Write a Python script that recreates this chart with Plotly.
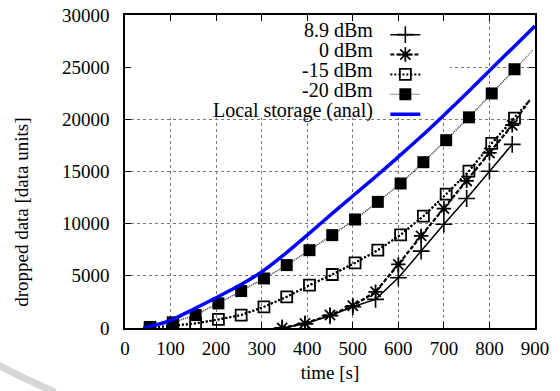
import plotly.graph_objects as go

# ---------------- data ----------------
labels = ["8.9 dBm", "0 dBm", "-15 dBm", "-20 dBm", "Local storage (anal)"]

t_p89 = [345, 395, 450, 500, 550, 600, 650, 700, 750, 800, 850]
v_p89 = [0, 400, 1170, 2030, 2740, 4810, 7370, 9950, 12410, 15030, 17600]

t_p0 = [345, 395, 450, 500, 550, 600, 650, 700, 750, 800, 850]
v_p0 = [0, 440, 1240, 2130, 3470, 6090, 8830, 11450, 14100, 16780, 19440]
t_p0_end = [888]
v_p0_end = [21830]

t_sq = [55, 105, 155, 205, 255, 305, 355, 405, 455, 505, 555, 605, 655, 705, 755, 805, 855]
v_m15 = [0, 210, 440, 820, 1240, 2030, 2990, 4110, 5130, 6245, 7460, 8930, 10720, 12830, 15030, 17700, 20110]
t_m15_end = [890]
v_m15_end = [21900]

v_m20 = [100, 540, 1240, 2360, 3540, 4750, 6030, 7460, 8900, 10400, 12090, 13850, 15890, 18000, 20190, 22480, 24800]
t_m20_end = [895]
v_m20_end = [26620]

t_anal = [40, 50, 100, 150, 200, 250, 300, 350, 400, 450, 500, 550, 600, 650, 700, 750, 800, 850, 900]
v_anal = [0, 90, 730, 1790, 2900, 4050, 5380, 7060, 8900, 10800, 12650, 14500, 16400, 18350, 20400, 22500, 24650, 26800, 28950]

x_ticks = [0, 100, 200, 300, 400, 500, 600, 700, 800, 900]
y_ticks = [0, 5000, 10000, 15000, 20000, 25000, 30000]

FONT = "'Liberation Serif', 'Times New Roman', Times, serif"
FS = 19

fig = go.Figure()

# 8.9 dBm
fig.add_trace(go.Scatter(x=t_p89, y=v_p89, mode="lines+markers", name="",
                         line=dict(color="black", width=1.5),
                         marker=dict(symbol="cross-thin", size=12, color="black",
                                     line=dict(color="black", width=1.6))))
# 0 dBm
fig.add_trace(go.Scatter(x=t_p0 + t_p0_end, y=v_p0 + v_p0_end, mode="lines", showlegend=False,
                         line=dict(color="black", width=2, dash="4px,2px")))
fig.add_trace(go.Scatter(x=t_p0, y=v_p0, mode="lines+markers", name="",
                         line=dict(color="black", width=2, dash="4px,2px"),
                         marker=dict(symbol="asterisk", size=12, color="black",
                                     line=dict(color="black", width=1.8))))
# -15 dBm
fig.add_trace(go.Scatter(x=t_sq + t_m15_end, y=v_m15 + v_m15_end, mode="lines", showlegend=False,
                         line=dict(color="black", width=2, dash="2px,2px")))
fig.add_trace(go.Scatter(x=t_sq, y=v_m15, mode="lines+markers", name="",
                         line=dict(color="black", width=2, dash="2px,2px"),
                         marker=dict(symbol="square-open", size=11, color="black",
                                     line=dict(color="black", width=1.8))))
# -20 dBm
fig.add_trace(go.Scatter(x=t_sq + t_m20_end, y=v_m20 + v_m20_end, mode="lines", showlegend=False,
                         line=dict(color="#555555", width=1.2, dash="1px,1px")))
fig.add_trace(go.Scatter(x=t_sq, y=v_m20, mode="lines+markers", name="",
                         line=dict(color="#555555", width=1.2, dash="1px,1px"),
                         marker=dict(symbol="square", size=12, color="black")))
# Local storage (analytical)
fig.add_trace(go.Scatter(x=t_anal, y=v_anal, mode="lines", name="",
                         line=dict(color="#0000ff", width=3.5, shape="spline", smoothing=0.6)))

# legend text (right-aligned, left of the samples, like the original key)
row_y = [28535, 26620, 24700, 22790, 20870]
for lab, yy in zip(labels, row_y):
    fig.add_annotation(x=549, y=yy, xref="x", yref="y", text=lab, showarrow=False,
                       xanchor="right", yanchor="middle",
                       font=dict(family=FONT, size=20, color="black"))

# y-axis title placed as in the original
fig.add_annotation(x=-0.252, y=0.37, xref="paper", yref="paper",
                   text="dropped data [data units]", textangle=-90, showarrow=False,
                   xanchor="center", yanchor="middle",
                   font=dict(family=FONT, size=FS, color="black"))

# opaque key area hides the grid behind it
fig.add_shape(type="rect", xref="x", yref="y", x0=0, x1=714, y0=20150, y1=30000,
              fillcolor="white", line=dict(width=0), layer="between")

# faint watermark arc in the lower-left corner
fig.add_shape(type="path", xref="paper", yref="paper",
              path="M -0.31,-0.118 Q -0.25,-0.16 -0.17,-0.205",
              line=dict(color="#d6d6d6", width=7), layer="above")

fig.update_layout(
    width=560, height=391,
    margin=dict(l=125, r=25, t=15, b=63, autoexpand=False),
    paper_bgcolor="white", plot_bgcolor="white",
    font=dict(family=FONT, size=FS, color="black"),
    showlegend=True,
    legend=dict(x=0.635, y=0.985, xanchor="left", yanchor="top",
                bgcolor="rgba(0,0,0,0)", borderwidth=0,
                font=dict(family=FONT, size=13), tracegroupgap=0,
                itemwidth=30),
)

fig.update_xaxes(range=[0, 900], tickvals=x_ticks, ticktext=[str(v) for v in x_ticks],
                 automargin=False,
                 showline=True, linecolor="black", linewidth=1.5, mirror="ticks",
                 ticks="inside", ticklen=6, tickcolor="black", tickwidth=1,
                 showgrid=True, gridcolor="#777777", griddash="dot", gridwidth=1,
                 zeroline=False, ticklabelstandoff=2,
                 tickfont=dict(family=FONT, size=FS),
                 title=dict(text="time [s]", font=dict(family=FONT, size=FS), standoff=8))
fig.update_yaxes(range=[0, 30000], tickvals=y_ticks, ticktext=[str(v) for v in y_ticks],
                 automargin=False,
                 showline=True, linecolor="black", linewidth=1.5, mirror="ticks",
                 ticks="inside", ticklen=6, tickcolor="black", tickwidth=1,
                 showgrid=True, gridcolor="#777777", griddash="dot", gridwidth=1,
                 zeroline=False, ticklabelstandoff=10,
                 tickfont=dict(family=FONT, size=FS))

fig.write_html("out.html")
